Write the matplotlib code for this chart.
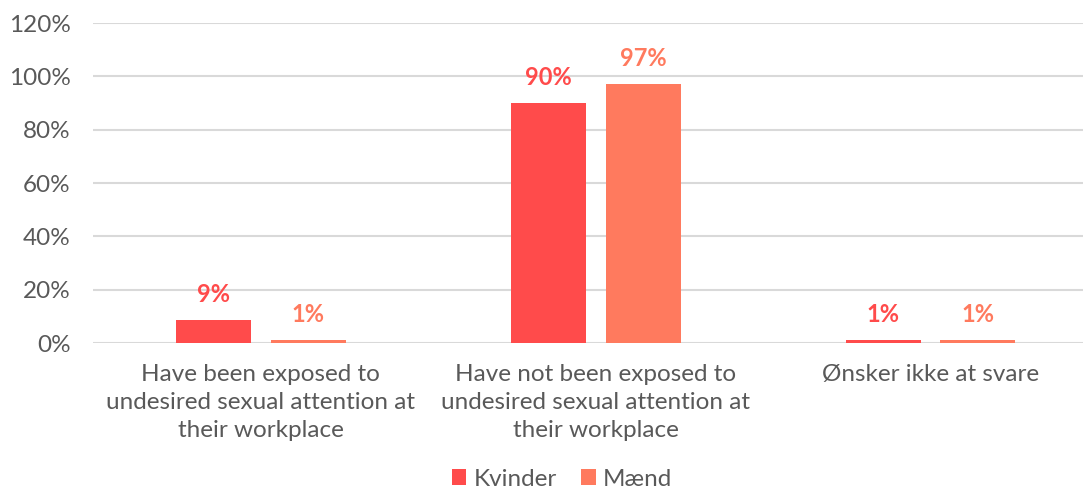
import matplotlib
matplotlib.use("Agg")
import matplotlib.pyplot as plt
from matplotlib.ticker import FuncFormatter, MultipleLocator
import numpy as np

categories = ["Have been exposed to\nundesired sexual attention at\ntheir workplace",
              "Have not been exposed to\nundesired sexual attention at\ntheir workplace",
              "Ønsker ikke at svare"]
series_names = ["Kvinder", "Mænd"]
kvinder = [8.6, 90.0, 1.3]
maend = [1.3, 97.2, 1.3]
colors = ["#FF4B4B", "#FF7A5E"]

plt.rcParams['font.family'] = ['Lato', 'DejaVu Sans']

fig = plt.figure(figsize=(10.83, 4.92), dpi=100)
ax = fig.add_axes([93/1083, (492-343)/492, 990/1083, 320/492])

x = np.arange(len(categories))
w = 75/335
off = 47.5/335
for vals, name, c, sgn in [(kvinder, series_names[0], colors[0], -1), (maend, series_names[1], colors[1], 1)]:
    bars = ax.bar(x + sgn*off, vals, width=w, color=c, label=name, zorder=3)
    for b, v in zip(bars, vals):
        ax.annotate(f"{v:.0f}%", (b.get_x() + b.get_width()/2, b.get_height()),
                    xytext=(0, 10), textcoords="offset points", ha="center", va="bottom",
                    fontsize=17, fontweight="bold", color=c)

ax.set_xlim(-0.5, -0.5 + 990/335)
ax.set_ylim(0, 120)
ax.yaxis.set_major_locator(MultipleLocator(20))
ax.yaxis.set_major_formatter(FuncFormatter(lambda v, p: f"{v:.0f}%"))
ax.grid(axis="y", color="#D9D9D9", lw=1.5, zorder=0)
for s in ax.spines.values():
    s.set_visible(False)
ax.set_xticks(x)
ax.set_xticklabels(categories, linespacing=1.42)
ax.tick_params(axis="both", length=0, labelsize=17.5, labelcolor="#595959")
ax.tick_params(axis="y", pad=16)
ax.tick_params(axis="x", pad=15)

leg = fig.legend(loc="center", bbox_to_anchor=(562/1083, 1 - 479/492), ncol=2, frameon=False,
                 fontsize=17.5, handlelength=0.6, handleheight=0.6, handletextpad=0.3, columnspacing=1.0,
                 borderpad=0.1)
for t in leg.get_texts():
    t.set_color("#595959")

fig.savefig("out.png", dpi=100)
